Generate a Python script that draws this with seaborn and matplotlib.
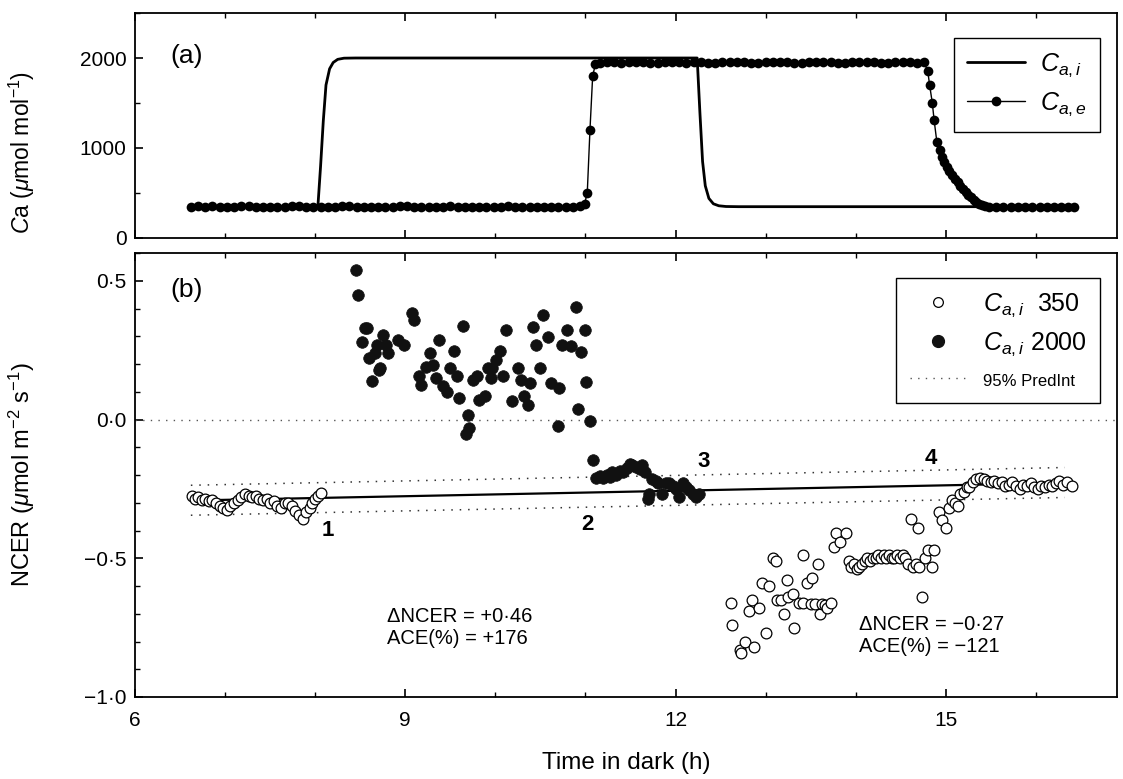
import matplotlib
matplotlib.use("Agg")
import matplotlib.pyplot as plt
import seaborn as sns
import pandas as pd
from matplotlib.lines import Line2D
from matplotlib.ticker import MultipleLocator, FixedLocator

# ---------------- data ----------------
# Panel (a): internal CO2 (line)
cai_t = [6.62, 8.03, 8.06, 8.09, 8.12, 8.16, 8.20, 8.25, 8.32, 8.45,
         12.24, 12.27, 12.30, 12.33, 12.37, 12.42, 12.48, 12.56, 12.70, 16.42]
cai_v = [350, 350, 800, 1300, 1700, 1880, 1950, 1985, 1998, 2000,
         2000, 1400, 850, 580, 440, 380, 358, 350, 348, 348]

# Panel (a): external CO2 (line + dots)
cae_t = [6.62, 6.70, 6.78, 6.86, 6.94, 7.02, 7.10, 7.18, 7.26, 7.34, 7.42, 7.50, 7.58, 7.66,
         7.74, 7.82, 7.90, 7.98, 8.06, 8.14, 8.22, 8.30, 8.38, 8.46, 8.54, 8.62, 8.70, 8.78,
         8.86, 8.94, 9.02, 9.10, 9.18, 9.26, 9.34, 9.42, 9.50, 9.58, 9.66, 9.74, 9.82, 9.90,
         9.98, 10.06, 10.14, 10.22, 10.30, 10.38, 10.46, 10.54, 10.62, 10.70, 10.78, 10.86, 10.94,
         10.99, 11.02, 11.05, 11.08, 11.11,
         11.16, 11.24, 11.32, 11.40, 11.48, 11.56, 11.64, 11.72, 11.80, 11.88, 11.96, 12.04,
         12.12, 12.20, 12.28, 12.36, 12.44, 12.52, 12.60, 12.68, 12.76, 12.84, 12.92, 13.00,
         13.08, 13.16, 13.24, 13.32, 13.40, 13.48, 13.56, 13.64, 13.72, 13.80, 13.88, 13.96,
         14.04, 14.12, 14.20, 14.28, 14.36, 14.44, 14.52, 14.60, 14.68, 14.76,
         14.80, 14.82, 14.85, 14.87, 14.90, 14.93, 14.96, 14.98, 15.01, 15.04, 15.07, 15.10,
         15.13, 15.16, 15.19, 15.22, 15.25, 15.28, 15.31, 15.34, 15.37, 15.40, 15.43,
         15.48, 15.56, 15.64, 15.72, 15.80, 15.88, 15.96, 16.04, 16.12, 16.20, 16.28, 16.36, 16.42]
cae_v = [348, 350, 346, 352, 349, 345, 347, 350, 352, 348, 346, 344, 347, 349,
         351, 350, 348, 345, 343, 346, 348, 350, 352, 349, 347, 345, 344, 346,
         349, 351, 350, 348, 346, 345, 347, 349, 350, 348, 346, 344, 343, 345,
         347, 349, 350, 348, 346, 345, 344, 346, 348, 349, 347, 346, 350,
         380, 500, 1200, 1800, 1930,
         1948, 1952, 1950, 1947, 1951, 1953, 1950, 1948, 1949, 1952, 1950, 1951,
         1948, 1950, 1952, 1949, 1947, 1950, 1951, 1953, 1950, 1948, 1949, 1951,
         1950, 1952, 1950, 1948, 1947, 1950, 1951, 1952, 1950, 1949, 1948, 1950,
         1951, 1950, 1952, 1949, 1948, 1950, 1951, 1950, 1949, 1950,
         1850, 1700, 1500, 1310, 1070, 980, 900, 840, 790, 740, 700, 660,
         620, 580, 545, 510, 480, 450, 420, 400, 380, 362, 352,
         345, 343, 346, 344, 342, 345, 347, 344, 343, 345, 346, 344, 342]

# Panel (b): NCER at Ca,i = 350 (open circles)
low_t = [6.63, 6.67, 6.70, 6.74, 6.78, 6.82, 6.86, 6.90, 6.94, 6.98, 7.02, 7.06, 7.10, 7.14,
         7.18, 7.22, 7.26, 7.30, 7.34, 7.38, 7.42, 7.46, 7.50, 7.54, 7.58, 7.62, 7.66, 7.70,
         7.74, 7.78, 7.82, 7.86, 7.90, 7.94, 7.97, 8.00, 8.03, 8.06,
         12.61, 12.63, 12.71, 12.73, 12.77, 12.82, 12.85, 12.87, 12.93, 12.96, 13.00, 13.04,
         13.08, 13.12, 13.13, 13.17, 13.20, 13.24, 13.25, 13.30, 13.32, 13.37, 13.41, 13.42,
         13.46, 13.50, 13.52, 13.55, 13.58, 13.60, 13.63, 13.66, 13.68, 13.72, 13.76, 13.78,
         13.83, 13.89,
         13.92, 13.95, 13.98, 14.01, 14.04, 14.07, 14.10, 14.13, 14.16, 14.19, 14.22, 14.25,
         14.28, 14.31, 14.34, 14.37, 14.40, 14.43, 14.46, 14.49, 14.52, 14.55, 14.58, 14.61,
         14.64, 14.67, 14.69, 14.70, 14.74, 14.77, 14.80, 14.85, 14.87,
         14.92, 14.96, 15.00, 15.04, 15.07, 15.10, 15.13, 15.16, 15.20, 15.23,
         15.26, 15.30, 15.34, 15.38, 15.42, 15.46, 15.50, 15.54, 15.58, 15.62, 15.66, 15.70,
         15.74, 15.78, 15.82, 15.86, 15.90, 15.94, 15.98, 16.02, 16.06, 16.10, 16.14, 16.18,
         16.22, 16.26, 16.30, 16.34, 16.40]
low_v = [-0.275, -0.285, -0.280, -0.290, -0.285, -0.295, -0.290, -0.300, -0.310, -0.320, -0.325, -0.310, -0.300, -0.290,
         -0.280, -0.270, -0.275, -0.280, -0.275, -0.285, -0.290, -0.285, -0.300, -0.295, -0.310, -0.320, -0.300, -0.300,
         -0.310, -0.330, -0.345, -0.360, -0.335, -0.320, -0.300, -0.285, -0.275, -0.265,
         -0.66, -0.74, -0.83, -0.84, -0.80, -0.69, -0.65, -0.82, -0.68, -0.59, -0.77, -0.60,
         -0.50, -0.51, -0.65, -0.65, -0.70, -0.58, -0.64, -0.63, -0.75, -0.66, -0.49, -0.66,
         -0.59, -0.665, -0.57, -0.665, -0.52, -0.70, -0.665, -0.67, -0.68, -0.66, -0.46, -0.41,
         -0.44, -0.41,
         -0.51, -0.53, -0.52, -0.54, -0.53, -0.52, -0.51, -0.50, -0.51, -0.50, -0.50, -0.49,
         -0.50, -0.49, -0.50, -0.49, -0.50, -0.50, -0.49, -0.50, -0.49, -0.50, -0.52, -0.36,
         -0.53, -0.52, -0.39, -0.53, -0.64, -0.50, -0.47, -0.53, -0.47,
         -0.333, -0.363, -0.39, -0.32, -0.29, -0.30, -0.31, -0.27, -0.26, -0.245,
         -0.243, -0.225, -0.215, -0.210, -0.215, -0.220, -0.225, -0.220, -0.230, -0.225, -0.240, -0.235,
         -0.225, -0.240, -0.250, -0.235, -0.240, -0.230, -0.245, -0.250, -0.240, -0.245, -0.235, -0.240,
         -0.230, -0.220, -0.235, -0.225, -0.240]

# Panel (b): NCER at Ca,i = 2000 (filled circles)
high_t = [8.45, 8.47, 8.52, 8.55, 8.58, 8.60, 8.63, 8.66, 8.69, 8.71,
          8.72, 8.75, 8.79, 8.81, 8.92, 8.99, 9.07, 9.10, 9.15, 9.18, 9.23, 9.27, 9.31, 9.34,
          9.37, 9.42, 9.46, 9.50, 9.54, 9.57, 9.60, 9.64, 9.67, 9.70, 9.71, 9.75, 9.80, 9.82,
          9.89, 9.92, 9.95, 9.96, 10.01, 10.05, 10.08, 10.12, 10.19, 10.25, 10.29, 10.32, 10.36,
          10.38, 10.42, 10.45, 10.49, 10.53, 10.58, 10.62, 10.69, 10.71, 10.74, 10.79, 10.84,
          10.90, 10.92, 10.95, 10.99, 11.01, 11.05,
          11.08, 11.12, 11.16, 11.20, 11.24, 11.27, 11.30, 11.34, 11.38, 11.42, 11.46, 11.49,
          11.52, 11.56, 11.60, 11.63, 11.66, 11.69, 11.71, 11.74, 11.78, 11.81, 11.85, 11.89,
          11.93, 11.97, 12.00, 12.04, 12.08, 12.12, 12.15, 12.19, 12.23, 12.26]
high_v = [0.54, 0.45, 0.28, 0.33, 0.33, 0.22, 0.14, 0.24, 0.27, 0.18,
          0.186, 0.306, 0.27, 0.24, 0.288, 0.27, 0.384, 0.36, 0.158, 0.126, 0.19, 0.24, 0.197, 0.15,
          0.288, 0.12, 0.10, 0.186, 0.246, 0.156, 0.078, 0.338, -0.054, 0.018, -0.03, 0.144, 0.156, 0.072,
          0.084, 0.186, 0.15, 0.186, 0.216, 0.246, 0.158, 0.324, 0.066, 0.186, 0.144, 0.084, 0.054,
          0.132, 0.333, 0.27, 0.186, 0.378, 0.297, 0.132, -0.024, 0.114, 0.27, 0.324, 0.264,
          0.405, 0.038, 0.242, 0.324, 0.136, -0.006,
          -0.145, -0.21, -0.205, -0.21, -0.20, -0.207, -0.19, -0.20, -0.185, -0.19, -0.175, -0.16,
          -0.165, -0.17, -0.18, -0.165, -0.19, -0.285, -0.27, -0.216, -0.22, -0.23, -0.27, -0.23,
          -0.23, -0.24, -0.25, -0.28, -0.23, -0.245, -0.255, -0.27, -0.28, -0.27]

# regression line and 95% prediction interval (endpoints)
fit_t = [6.62, 16.40]
fit_v = [-0.292, -0.228]
pi_t = [6.62, 16.32]
pi_up = [-0.237, -0.173]
pi_lo = [-0.345, -0.281]

# labels / ticks
xticks = [6, 9, 12, 15]
xticklabels = ["6", "9", "12", "15"]
yticks_a = [0, 1000, 2000]
yticklabels_a = ["0", "1000", "2000"]
yticks_b = [-1.0, -0.5, 0.0, 0.5]
yticklabels_b = ["\u22121\u00b70", "\u22120\u00b75", "0\u00b70", "0\u00b75"]
point_labels = ["1", "2", "3", "4"]
point_label_x = [8.14, 11.02, 12.31, 14.83]
point_label_y = [-0.40, -0.38, -0.153, -0.14]

# ---------------- style ----------------
sns.set_theme(style="ticks")
plt.rcParams["font.family"] = ["Liberation Sans", "DejaVu Sans"]
plt.rcParams["mathtext.fontset"] = "custom"
plt.rcParams["mathtext.rm"] = "Liberation Sans"
plt.rcParams["mathtext.it"] = "Liberation Sans:italic"
plt.rcParams["mathtext.bf"] = "Liberation Sans:bold"
plt.rcParams["axes.linewidth"] = 1.3
for k in ("text.color", "axes.labelcolor", "xtick.color", "ytick.color", "axes.edgecolor"):
    plt.rcParams[k] = "black"

fig = plt.figure(figsize=(11.23, 7.79), dpi=100)
W, H = 1123.0, 779.0
L, R = 135, 1117
axA = fig.add_axes([L / W, 1 - 238 / H, (R - L) / W, 225 / H])
axB = fig.add_axes([L / W, 1 - 697 / H, (R - L) / W, 444 / H])

dotted = (0, (1, 4.5))

# ---------------- panel (a) ----------------
dfe = pd.DataFrame({"t": cae_t, "v": cae_v})
dfi = pd.DataFrame({"t": cai_t, "v": cai_v})
sns.lineplot(data=dfe, x="t", y="v", ax=axA, color="black", lw=1.0, marker="o",
             markersize=7, markeredgewidth=0, sort=False, estimator=None, zorder=2)
sns.lineplot(data=dfi, x="t", y="v", ax=axA, color="black", lw=2.0, sort=False,
             estimator=None, zorder=3)

axA.set_xlim(6, 16.9)
axA.set_ylim(0, 2500)
axA.xaxis.set_major_locator(FixedLocator(xticks))
axA.xaxis.set_minor_locator(MultipleLocator(1))
axA.set_xticklabels([])
axA.set_yticks(yticks_a)
axA.set_yticklabels(yticklabels_a)
axA.yaxis.set_minor_locator(MultipleLocator(500))
axA.set_xlabel("")
axA.set_ylabel(r"$\mathit{C}$a ($\mathit{\mu}$mol mol$^{-1}$)", fontsize=16.5)
axA.yaxis.set_label_coords(-0.10, 0.38)
axA.text(0.036, 0.81, "(a)", transform=axA.transAxes, fontsize=19, va="center", ha="left")

hA = [Line2D([], [], color="black", lw=2.0),
      Line2D([], [], color="black", lw=1.0, marker="o", markersize=7, markeredgewidth=0)]
legA = axA.legend(hA, [r"$C_{a,i}$", r"$C_{a,e}$"], loc="upper right",
                  bbox_to_anchor=(0.983, 0.889), borderaxespad=0, fontsize=18,
                  frameon=True, fancybox=False, edgecolor="black", framealpha=1,
                  handlelength=2.3, labelspacing=0.45, borderpad=0.55, handletextpad=0.6)
legA.get_frame().set_linewidth(1.0)

# ---------------- panel (b) ----------------
axB.axhline(0, color="#555555", lw=1.0, ls=dotted, zorder=1)
dff = pd.DataFrame({"t": fit_t, "v": fit_v})
sns.lineplot(data=dff, x="t", y="v", ax=axB, color="black", lw=1.6, sort=False,
             estimator=None, zorder=2)
dfu = pd.DataFrame({"t": pi_t, "v": pi_up})
dfl = pd.DataFrame({"t": pi_t, "v": pi_lo})
for d in (dfu, dfl):
    sns.lineplot(data=d, x="t", y="v", ax=axB, color="#333333", lw=1.1, sort=False,
                 estimator=None, zorder=2, linestyle=dotted)

dlow = pd.DataFrame({"t": low_t, "v": low_v})
dhigh = pd.DataFrame({"t": high_t, "v": high_v})
sns.scatterplot(data=dlow, x="t", y="v", ax=axB, s=60, facecolor="white",
                edgecolor="black", linewidth=0.9, zorder=4)
sns.scatterplot(data=dhigh, x="t", y="v", ax=axB, s=70, color="#111111",
                edgecolor="#111111", linewidth=0.5, zorder=5)

for lab, x, y in zip(point_labels, point_label_x, point_label_y):
    axB.text(x, y, lab, fontsize=16, fontweight="bold", ha="center", va="center")

axB.text(8.80, -0.748, "\u0394NCER = +0\u00b746\nACE(%) = +176", fontsize=14.5,
         ha="left", va="center", linespacing=1.2)
axB.text(14.04, -0.78, "\u0394NCER = \u22120\u00b727\nACE(%) = \u2212121", fontsize=14.5,
         ha="left", va="center", linespacing=1.2)

axB.set_xlim(6, 16.9)
axB.set_ylim(-1.0, 0.6)
axB.xaxis.set_major_locator(FixedLocator(xticks))
axB.xaxis.set_minor_locator(MultipleLocator(1))
axB.set_xticklabels(xticklabels)
axB.set_yticks(yticks_b)
axB.set_yticklabels(yticklabels_b)
axB.yaxis.set_minor_locator(MultipleLocator(0.1))
axB.set_xlabel("Time in dark (h)", fontsize=17.5, labelpad=16)
axB.set_ylabel(r"NCER ($\mathit{\mu}$mol m$^{-2}$ s$^{-1}$)", fontsize=17)
axB.yaxis.set_label_coords(-0.10, 0.5)
axB.text(0.036, 0.917, "(b)", transform=axB.transAxes, fontsize=19, va="center", ha="left")

hB = [Line2D([], [], ls="none", marker="o", markersize=7, markerfacecolor="white",
             markeredgecolor="black", markeredgewidth=0.9),
      Line2D([], [], ls="none", marker="o", markersize=8.5, markerfacecolor="#111111",
             markeredgecolor="#111111"),
      Line2D([], [], color="#555555", lw=1.0, ls=dotted)]
legB = axB.legend(hB, [r"$C_{a,i}$  350", r"$C_{a,i}$ 2000", "95% PredInt"],
                  loc="upper right", bbox_to_anchor=(0.983, 0.944), borderaxespad=0,
                  fontsize=18, frameon=True, fancybox=False, edgecolor="black",
                  framealpha=1, handlelength=2.2, labelspacing=0.45, borderpad=0.55,
                  handletextpad=0.7)
legB.get_frame().set_linewidth(1.0)
legB.get_texts()[2].set_fontsize(12)

for ax in (axA, axB):
    ax.tick_params(which="both", direction="in", top=True, right=False, colors="black",
                   labelsize=15)
    ax.tick_params(which="major", length=6, width=1.2)
    ax.tick_params(which="minor", length=3.5, width=1.0)
    ax.tick_params(axis="x", pad=10)
    ax.tick_params(axis="y", pad=6)
    for sp in ax.spines.values():
        sp.set_visible(True)
        sp.set_color("black")
    ax.set_facecolor("white")

fig.savefig("out.png", dpi=100, facecolor="white")
